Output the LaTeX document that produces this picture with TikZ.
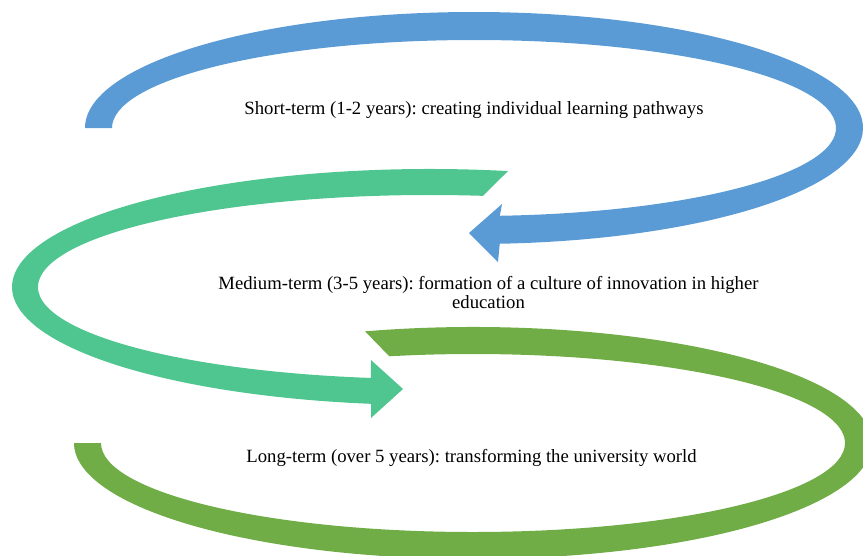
\documentclass[tikz,border=0pt]{standalone}
\usepackage{fontspec}
\setmainfont{Liberation Serif}
\usetikzlibrary{calc}
\definecolor{stepblue}{RGB}{91,155,213}
\definecolor{stepteal}{RGB}{79,198,143}
\definecolor{stepgreen}{RGB}{112,173,71}
\tikzstyle{stage} = [text=black, align=center, inner sep=0pt, font=\fontsize{18.7}{19.5}\selectfont\frenchspacing]
\tikzstyle{band} = [draw=none]

\begin{document}
\begin{tikzpicture}[x=1pt, y=-1pt]
\useasboundingbox (0,0) rectangle (863,555);
\coordinate (cshort) at (474,128);
\coordinate (cmid) at (430,287);
\coordinate (clong) at (473,443);

\fill [band, stepblue] ($(cshort)+(180:389 and 116)$) arc [start angle=180, end angle=446.2, x radius=389, y radius=116]
  -- (498,262) -- (469,233) -- (502,204)
  -- ($(cshort)+(445.9:362 and 88)$) arc [start angle=445.9, end angle=180, x radius=362, y radius=88] -- cycle;

\fill [band, stepteal] ($(cmid)+(280.75:418 and 118)$) arc [start angle=280.75, end angle=98.11, x radius=418, y radius=118]
  -- (371,418) -- (403,389) -- (371,360)
  -- ($(cmid)+(98.66:392 and 92)$) arc [start angle=98.66, end angle=277.77, x radius=392, y radius=92] -- cycle;

\fill [band, stepgreen] ($(clong)+(254.3:399 and 116)$) arc [start angle=254.3, end angle=540, x radius=399, y radius=116]
  -- ($(clong)+(540:372 and 89)$) arc [start angle=540, end angle=257, x radius=372, y radius=89] -- cycle;

\node (short) [stage] at (474,110) {Short-term (1-2 years): creating individual learning pathways};
\node (mid) [stage] at (488.5,292.5) {Medium-term (3-5 years): formation of a culture of innovation in higher\\education};
\node (long) [stage] at (471.5,458) {Long-term (over 5 years): transforming the university world};

\end{tikzpicture}
\end{document}
